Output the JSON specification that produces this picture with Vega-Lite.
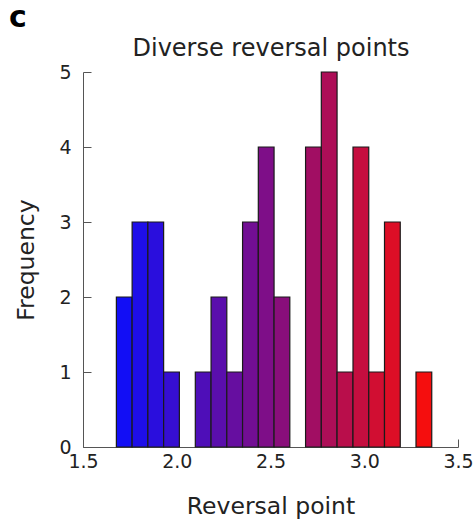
{
  "$schema": "https://vega.github.io/schema/vega-lite/v6.json",
  "autosize": "none",
  "width": 375,
  "height": 375,
  "padding": {"left": 83, "top": 72, "right": 17, "bottom": 72},
  "background": "white",
  "title": {
    "text": "c",
    "anchor": "start",
    "frame": "group",
    "font": "DejaVu Sans",
    "fontWeight": 900,
    "fontSize": 30,
    "color": "#000",
    "dx": -74,
    "offset": 3
  },
  "config": {
    "view": {"stroke": null},
    "font": "DejaVu Sans",
    "axis": {
      "labelFont": "DejaVu Sans",
      "titleFont": "DejaVu Sans",
      "labelFontSize": 19,
      "titleFontSize": 23.5,
      "titleFontWeight": "normal",
      "labelColor": "#222",
      "titleColor": "#222",
      "domainColor": "#555",
      "tickColor": "#555",
      "labelFlush": false,
      "grid": false
    }
  },
  "data": {
    "values": [
      {"bin_start": 1.678, "bin_end": 1.762, "count": 2},
      {"bin_start": 1.762, "bin_end": 1.846, "count": 3},
      {"bin_start": 1.846, "bin_end": 1.930, "count": 3},
      {"bin_start": 1.930, "bin_end": 2.014, "count": 1},
      {"bin_start": 2.099, "bin_end": 2.183, "count": 1},
      {"bin_start": 2.183, "bin_end": 2.267, "count": 2},
      {"bin_start": 2.267, "bin_end": 2.351, "count": 1},
      {"bin_start": 2.351, "bin_end": 2.435, "count": 3},
      {"bin_start": 2.435, "bin_end": 2.519, "count": 4},
      {"bin_start": 2.519, "bin_end": 2.603, "count": 2},
      {"bin_start": 2.687, "bin_end": 2.771, "count": 4},
      {"bin_start": 2.771, "bin_end": 2.855, "count": 5},
      {"bin_start": 2.855, "bin_end": 2.940, "count": 1},
      {"bin_start": 2.940, "bin_end": 3.024, "count": 4},
      {"bin_start": 3.024, "bin_end": 3.108, "count": 1},
      {"bin_start": 3.108, "bin_end": 3.192, "count": 3},
      {"bin_start": 3.276, "bin_end": 3.360, "count": 1}
    ]
  },
  "resolve": {"axis": {"x": "independent"}},
  "layer": [
    {
      "mark": {"type": "bar", "stroke": "#1a1a1a", "strokeWidth": 1.2},
      "encoding": {
        "x": {
          "field": "bin_start",
          "type": "quantitative",
          "scale": {"domain": [1.5, 3.5], "nice": false, "zero": false},
          "axis": {
            "title": "Reversal point",
            "values": [1.5, 2.0, 2.5, 3.0, 3.5],
            "format": ".1f",
            "tickSize": -8,
            "labelPadding": 13,
            "titlePadding": 23
          }
        },
        "x2": {"field": "bin_end"},
        "y": {
          "field": "count",
          "type": "quantitative",
          "scale": {"domain": [0, 5], "nice": false},
          "axis": {
            "title": "Frequency",
            "values": [0, 1, 2, 3, 4, 5],
            "tickSize": -8,
            "labelPadding": 20,
            "titlePadding": 20
          }
        },
        "y2": {"datum": 0},
        "color": {
          "field": "bin_start",
          "type": "quantitative",
          "scale": {"domain": [1.678, 3.276], "range": ["#120ef5", "#f50e0e"], "interpolate": "rgb"},
          "legend": null
        }
      }
    },
    {
      "mark": {"type": "rule", "opacity": 0},
      "encoding": {
        "x": {
          "field": "bin_start",
          "type": "quantitative",
          "axis": {
            "orient": "top",
            "title": "Diverse reversal points",
            "labels": false,
            "ticks": false,
            "domain": false,
            "titleFontSize": 24,
            "titlePadding": 12
          }
        }
      }
    }
  ]
}
